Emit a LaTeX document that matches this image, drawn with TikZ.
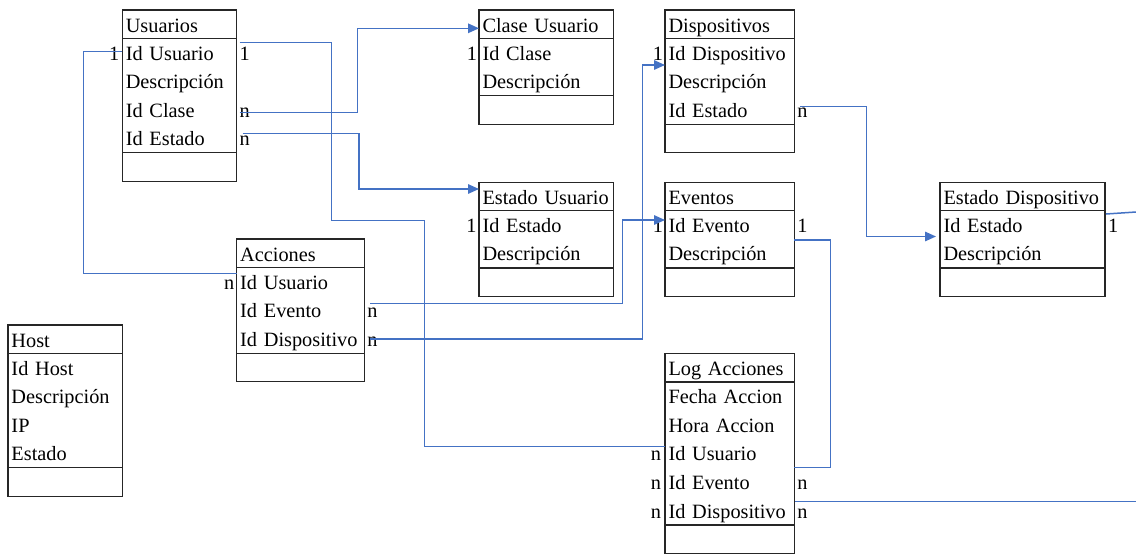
\documentclass[tikz,border=0pt]{standalone}
\usepackage{fontspec}
\setmainfont{Liberation Serif}
\usetikzlibrary{arrows.meta,calc}
\definecolor{linkblue}{RGB}{68,114,196}
\definecolor{boxline}{RGB}{38,38,38}
\tikzset{
  tbox/.style={draw=boxline, line width=1.3pt, inner sep=0pt, outer sep=0pt, anchor=north west},
  hdr/.style={inner xsep=3.5pt, inner ysep=0pt, outer sep=0pt, anchor=north west, minimum height=28.4pt, text height=18pt, text depth=2.4pt, align=left},
  rowc/.style={inner xsep=3.5pt, inner ysep=0pt, outer sep=0pt, anchor=north west, minimum height=28.6pt, text height=18pt, text depth=3.4pt, align=left},
  sepline/.style={draw=boxline, line width=1.3pt},
  conn/.style={draw=linkblue, line width=1.5pt},
  arr/.style={conn, -{Triangle[length=11pt,width=9.5pt]}},
  card/.style={inner sep=0pt, outer sep=0pt},
}
% #1 name, #2 top-left x,y, #3 width (pt, no unit), #4 title, #5 rows
\newcommand\ertable[5]{%
  \pgfmathsetmacro\ertw{#3-7}%
  \node[hdr, text width=\ertw pt] (#1-h) at (#2) {#4};
  \foreach \rowtext [count=\i] in {#5} {
    \node[rowc, text width=\ertw pt] (#1-\i) at ($(#1-h.south west)+(0,{28.6*(\i-1)})$) {\rowtext};
    \xdef\ernrows{\i}
  }
  \pgfmathsetmacro\erh{28.4+28.6*(\ernrows+1)}%
  \node[tbox, minimum width=#3pt, minimum height=\erh pt] (#1) at (#2) {};
  \draw[sepline] (#1-h.south west) -- (#1-h.south east);
  \draw[sepline] (#1-\ernrows.south west) -- (#1-\ernrows.south east);
}
\begin{document}
\begin{tikzpicture}[x=1pt, y=-1pt, font=\fontsize{20.3}{24}\selectfont]
\fill[white] (0,0) rectangle (1136,554);
\useasboundingbox (0,0) rectangle (1136,554);

\ertable{usu}{122.3,10}{114.4}{Usuarios}{Id Usuario, Descripción, Id Clase, Id Estado}
\ertable{cla}{479,10}{134.3}{Clase Usuario}{Id Clase, Descripción}
\ertable{dis}{665,10}{129.3}{Dispositivos}{Id Dispositivo, Descripción, Id Estado}
\ertable{estu}{479,182.3}{134.3}{Estado Usuario}{Id Estado, Descripción}
\ertable{eve}{665,182.3}{129.3}{Eventos}{Id Evento, Descripción}
\ertable{estd}{940,182.3}{165}{Estado Dispositivo}{Id Estado, Descripción}
\ertable{acc}{236.7,239}{127.6}{Acciones}{Id Usuario, Id Evento, Id Dispositivo}
\ertable{log}{665,353.7}{129.3}{Log Acciones}{Fecha Accion, Hora Accion, Id Usuario, Id Evento, Id Dispositivo}
\ertable{host}{8,325}{114.7}{Host}{Id Host, Descripción, IP, Estado}

% cardinality labels
\node[card, anchor=base east] (lu1) at ([xshift=-3pt]usu-1.base west) {1};
\node[card, anchor=base west] (lu2) at ([xshift=3pt]usu-1.base east) {1};
\node[card, anchor=base west] (lu3) at ([xshift=3pt]usu-3.base east) {n};
\node[card, anchor=base west] (lu4) at ([xshift=3pt]usu-4.base east) {n};
\node[card, anchor=base east] (lc1) at ([xshift=-2pt]cla-1.base west) {1};
\node[card, anchor=base east] (le1) at ([xshift=-2.5pt]estu-1.base west) {1};
\node[card, anchor=base east] (ld1) at ([xshift=-2pt]dis-1.base west) {1};
\node[card, anchor=base west] (ld3) at ([xshift=3pt]dis-3.base east) {n};
\node[card, anchor=base east] (lv1) at ([xshift=-2pt]eve-1.base west) {1};
\node[card, anchor=base west] (lv2) at ([xshift=3pt]eve-1.base east) {1};
\node[card, anchor=base west] (lsd) at ([xshift=3pt]estd-1.base east) {1};
\node[card, anchor=base east] (la1) at ([xshift=-2.5pt]acc-1.base west) {n};
\node[card, anchor=base west] (la2) at ([xshift=3pt]acc-2.base east) {n};
\node[card, anchor=base west] (la3) at ([xshift=3pt]acc-3.base east) {n};
\node[card, anchor=base east] (ll3) at ([xshift=-4pt]log-3.base west) {n};
\node[card, anchor=base east] (ll4) at ([xshift=-4pt]log-4.base west) {n};
\node[card, anchor=base east] (ll5) at ([xshift=-4pt]log-5.base west) {n};
\node[card, anchor=base west] (lr4) at ([xshift=3pt]log-4.base east) {n};
\node[card, anchor=base west] (lr5) at ([xshift=3pt]log-5.base east) {n};

% connectors
\draw[conn] ([yshift=1pt]usu-1.west) -- ++(-39,0) |- ([yshift=8.4pt]acc-1.west);
\draw[conn] ([xshift=3pt,yshift=10pt]usu-1.east) -| (331.7,220.7) -- (424.5,220.7) |- ([yshift=6.9pt]log-3.west);
\draw[arr] ([xshift=3pt,yshift=-2.4pt]usu-3.east) -- ++(118,0) |- ([yshift=-4.1pt]cla-h.west);
\draw[arr] ([xshift=6pt,yshift=5.2pt]usu-4.east) -- ++(116.4,0) |- ([yshift=7.5pt]estu-h.west);
\draw[arr] ([xshift=5.7pt,yshift=7pt]acc-2.east) -- ++(252.3,0) |- ([yshift=5pt]eve-1.west);
\draw[arr] ([xshift=5.7pt]acc-3.east) -- ++(272.3,0) |- ([yshift=-12.3pt]dis-1.west);
\draw[arr, shorten >=4pt] ([xshift=5.7pt,yshift=3.2pt]dis-3.east) -- ++(66.5,0) |- ([yshift=-11.5pt]estd-1.west);
\draw[conn] ([yshift=-15pt]eve-1.east) -- ++(36,0) |- ([yshift=-14pt]log-3.east);
\coordinate (edgeA) at (1136,212);
\draw[conn] ([xshift=1pt,yshift=11pt]estd-1.east) -- (edgeA);
\coordinate (edgeB) at (1136,501.5);
\draw[conn] ([xshift=1pt,yshift=9.3pt]log-5.east) -- (edgeB);
\end{tikzpicture}
\end{document}
